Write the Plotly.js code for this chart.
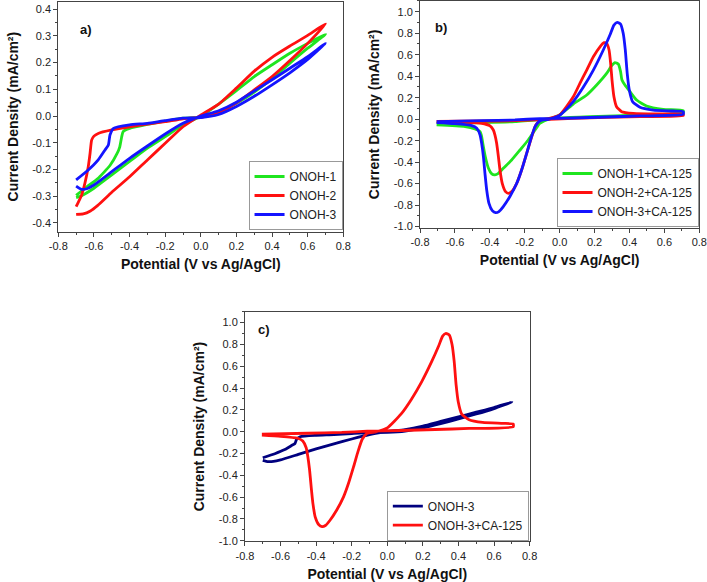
<!DOCTYPE html>
<html>
<head>
<meta charset="utf-8">
<script src="https://cdn.plot.ly/plotly-3.0.1.min.js"></script>
<style>html,body{margin:0;padding:0;background:#fff;}#chart{width:707px;height:582px;}</style>
</head>
<body>
<div id="chart"></div>
<script>
// ---------- Panel a) : bare electrodes ----------
const a1Name = 'ONOH-1';
const a1Potential = [-0.70,-0.67,-0.60,-0.50,-0.40,-0.30,-0.20,-0.10,0.00,0.10,0.20,0.30,0.40,0.50,0.60,0.70,
  0.60,0.50,0.40,0.30,0.20,0.10,0.00,-0.10,-0.20,-0.30,-0.40,-0.436,-0.445,-0.455,-0.47,-0.51,-0.58,-0.64,-0.70];
const a1Current = [-0.305,-0.298,-0.270,-0.220,-0.170,-0.120,-0.077,-0.033,0.000,0.045,0.095,0.148,0.192,0.235,0.272,0.306,
  0.254,0.198,0.140,0.090,0.048,0.015,-0.004,-0.008,-0.019,-0.031,-0.046,-0.058,-0.080,-0.115,-0.140,-0.185,-0.235,-0.265,-0.297];

const a2Name = 'ONOH-2';
const a2Potential = [-0.70,-0.66,-0.62,-0.58,-0.50,-0.40,-0.30,-0.20,-0.10,0.00,0.10,0.20,0.30,0.40,0.50,0.60,0.70,
  0.60,0.50,0.40,0.30,0.20,0.10,0.00,-0.10,-0.20,-0.30,-0.40,-0.50,-0.576,-0.60,-0.613,-0.622,-0.632,-0.651,-0.669,-0.70];
const a2Current = [-0.368,-0.366,-0.355,-0.335,-0.285,-0.227,-0.164,-0.102,-0.040,0.004,0.045,0.105,0.168,0.220,0.262,0.302,0.345,
  0.272,0.208,0.148,0.098,0.050,0.012,-0.005,-0.010,-0.021,-0.030,-0.040,-0.052,-0.065,-0.075,-0.090,-0.140,-0.190,-0.252,-0.295,-0.339];

const a3Name = 'ONOH-3';
const a3Potential = [-0.70,-0.67,-0.64,-0.60,-0.50,-0.40,-0.30,-0.20,-0.10,0.00,0.10,0.20,0.30,0.40,0.50,0.60,0.70,
  0.60,0.50,0.40,0.30,0.20,0.10,0.00,-0.10,-0.20,-0.30,-0.40,-0.49,-0.51,-0.519,-0.538,-0.576,-0.632,-0.70];
const a3Current = [-0.262,-0.274,-0.272,-0.258,-0.208,-0.158,-0.112,-0.067,-0.027,0.000,0.020,0.052,0.094,0.136,0.179,0.222,0.272,
  0.212,0.162,0.117,0.074,0.036,0.006,-0.006,-0.008,-0.017,-0.027,-0.033,-0.046,-0.071,-0.108,-0.127,-0.164,-0.202,-0.239];

// ---------- Panel b) : with CA-125 ----------
const b1Name = 'ONOH-1+CA-125';
const b1Potential = [-0.705,-0.542,-0.485,-0.456,-0.447,-0.437,-0.424,-0.408,-0.389,-0.371,-0.351,-0.323,-0.275,-0.227,-0.18,-0.141,-0.113,-0.075,0.00,
  0.078,0.155,0.212,0.269,0.298,0.317,0.336,0.349,0.357,0.374,0.403,0.441,0.498,0.593,0.708,
  0.708,0.46,0.174,0.00,-0.256,-0.705];
const b1Current = [-0.054,-0.069,-0.091,-0.116,-0.162,-0.256,-0.364,-0.457,-0.510,-0.519,-0.504,-0.457,-0.380,-0.287,-0.194,-0.101,-0.038,-0.007,0.040,
  0.141,0.225,0.318,0.426,0.498,0.526,0.513,0.442,0.364,0.318,0.256,0.178,0.123,0.092,0.079,
  0.061,0.039,0.024,0.012,-0.023,-0.040];

const b2Name = 'ONOH-2+CA-125';
const b2Potential = [-0.705,-0.542,-0.447,-0.399,-0.380,-0.371,-0.361,-0.351,-0.342,-0.329,-0.310,-0.294,-0.275,-0.246,-0.218,-0.189,-0.160,-0.137,-0.107,-0.065,0.00,
  0.078,0.116,0.155,0.193,0.231,0.254,0.269,0.283,0.292,0.300,0.311,0.326,0.355,0.422,0.556,0.708,
  0.708,0.46,0.078,-0.256,-0.705];
const b2Current = [-0.023,-0.029,-0.038,-0.063,-0.101,-0.147,-0.225,-0.349,-0.473,-0.597,-0.674,-0.690,-0.674,-0.597,-0.473,-0.318,-0.163,-0.054,-0.007,0.005,0.040,
  0.209,0.333,0.457,0.581,0.674,0.712,0.706,0.644,0.520,0.364,0.209,0.116,0.070,0.054,0.048,0.048,
  0.033,0.024,0.008,-0.014,-0.020];

const b3Name = 'ONOH-3+CA-125';
const b3Potential = [-0.705,-0.60,-0.504,-0.475,-0.456,-0.447,-0.437,-0.428,-0.418,-0.405,-0.386,-0.367,-0.348,-0.323,-0.285,-0.246,-0.218,-0.189,-0.164,-0.141,-0.113,-0.065,0.00,
  0.078,0.135,0.193,0.25,0.288,0.311,0.33,0.349,0.364,0.376,0.387,0.399,0.418,0.46,0.536,0.651,0.708,
  0.708,0.46,0.269,0.078,-0.113,-0.256,-0.447,-0.705];
const b3Current = [-0.032,-0.042,-0.060,-0.085,-0.147,-0.225,-0.349,-0.504,-0.659,-0.783,-0.851,-0.870,-0.860,-0.814,-0.720,-0.597,-0.473,-0.318,-0.178,-0.069,-0.014,-0.001,0.035,
  0.163,0.296,0.457,0.644,0.783,0.876,0.901,0.885,0.799,0.644,0.427,0.272,0.163,0.110,0.085,0.076,0.070,
  0.045,0.030,0.020,0.011,0.005,-0.007,-0.014,-0.023];

// ---------- Panel c) : comparison (same ONOH-3 data) ----------
const c1Name = 'ONOH-3';
const c2Name = 'ONOH-3+CA-125';

// ---------- tick labels ----------
const xTickVals = [-0.8,-0.6,-0.4,-0.2,0.0,0.2,0.4,0.6,0.8];
const xTickText = ['-0.8','-0.6','-0.4','-0.2','0.0','0.2','0.4','0.6','0.8'];
const yaTickVals = [-0.4,-0.3,-0.2,-0.1,0.0,0.1,0.2,0.3,0.4];
const yaTickText = ['-0.4','-0.3','-0.2','-0.1','0.0','0.1','0.2','0.3','0.4'];
const ybTickVals = [-1.0,-0.8,-0.6,-0.4,-0.2,0.0,0.2,0.4,0.6,0.8,1.0];
const ybTickText = ['-1.0','-0.8','-0.6','-0.4','-0.2','0.0','0.2','0.4','0.6','0.8','1.0'];

const GREEN = '#1fe51f', RED = '#ff1010', BLUE = '#1414ff', NAVY = '#00007f';
const FONT = 'Liberation Sans, Arial, sans-serif';

function tr(x, y, name, color, xa, ya, lg) {
  return {x: x, y: y, name: name, type: 'scatter', mode: 'lines', xaxis: xa, yaxis: ya, legend: lg,
          line: {color: color, width: 2.8, shape: 'spline', smoothing: 0.5}};
}

const data = [
  tr(a1Potential, a1Current, a1Name, GREEN, 'x', 'y', 'legend'),
  tr(a2Potential, a2Current, a2Name, RED, 'x', 'y', 'legend'),
  tr(a3Potential, a3Current, a3Name, BLUE, 'x', 'y', 'legend'),
  tr(b1Potential, b1Current, b1Name, GREEN, 'x2', 'y2', 'legend2'),
  tr(b2Potential, b2Current, b2Name, RED, 'x2', 'y2', 'legend2'),
  tr(b3Potential, b3Current, b3Name, BLUE, 'x2', 'y2', 'legend2'),
  tr(a3Potential, a3Current, c1Name, NAVY, 'x3', 'y3', 'legend3'),
  tr(b3Potential, b3Current, c2Name, RED, 'x3', 'y3', 'legend3')
];

function axisBase() {
  return {showline: true, linecolor: '#444', linewidth: 1, mirror: true, ticks: 'outside', ticklen: 4,
    tickwidth: 1, tickcolor: '#444', showgrid: false, zeroline: false, automargin: false,
    tickfont: {family: FONT, size: 11, color: '#222'}};
}
function xAxis(domain, anchor) {
  return Object.assign(axisBase(), {domain: domain, anchor: anchor, range: [-0.8, 0.8],
    tickmode: 'array', tickvals: xTickVals, ticktext: xTickText,
    minor: {tick0: 0, dtick: 0.1, ticks: 'outside', ticklen: 2, tickcolor: '#444', showgrid: false},
    title: {text: 'Potential (V vs Ag/AgCl)', font: {family: FONT, size: 14, weight: 'bold', color: '#111'}, standoff: 8}});
}
function yAxis(domain, anchor, range, vals, text, minorStep) {
  return Object.assign(axisBase(), {domain: domain, anchor: anchor, range: range,
    tickmode: 'array', tickvals: vals, ticktext: text,
    minor: {tick0: 0, dtick: minorStep, ticks: 'outside', ticklen: 2, tickcolor: '#444', showgrid: false},
    title: {text: 'Current Density (mA/cm²)', font: {family: FONT, size: 14, weight: 'bold', color: '#111'}, standoff: 10}});
}
function legendBox(x, y) {
  return {x: x, y: y, xanchor: 'right', yanchor: 'bottom', bgcolor: '#fff', bordercolor: '#999', borderwidth: 1,
    font: {family: FONT, size: 12, color: '#222'}, tracegroupgap: 0, itemwidth: 30};
}
function label(text, x, y) {
  return {text: text, x: x, y: y, xref: 'paper', yref: 'paper', showarrow: false,
    font: {family: FONT, size: 13, weight: 'bold', color: '#111'}};
}

const layout = {
  width: 707, height: 582, margin: {l: 0, r: 0, t: 0, b: 0}, paper_bgcolor: '#fff', plot_bgcolor: '#fff',
  showlegend: true,
  xaxis: xAxis([0.0825, 0.4856], 'y'),
  yaxis: yAxis([0.6022, 0.9971], 'x', [-0.432, 0.428], yaTickVals, yaTickText, 0.05),
  xaxis2: xAxis([0.5941, 0.9891], 'y2'),
  yaxis2: yAxis([0.6088, 0.9983], 'x2', [-1.01, 1.10], ybTickVals, ybTickText, 0.1),
  xaxis3: xAxis([0.3465, 0.7491], 'y3'),
  yaxis3: yAxis([0.0699, 0.4644], 'x3', [-1.005, 1.10], ybTickVals, ybTickText, 0.1),
  legend: legendBox(0.4845, 0.6048),
  legend2: legendBox(0.9880, 0.6100),
  legend3: legendBox(0.7480, 0.0710),
  annotations: [
    label('a)', 0.110, 0.9656),
    label('b)', 0.6238, 0.969),
    label('c)', 0.3734, 0.433)
  ]
};

Plotly.newPlot('chart', data, layout, {displayModeBar: false, staticPlot: true});
</script>
</body>
</html>
